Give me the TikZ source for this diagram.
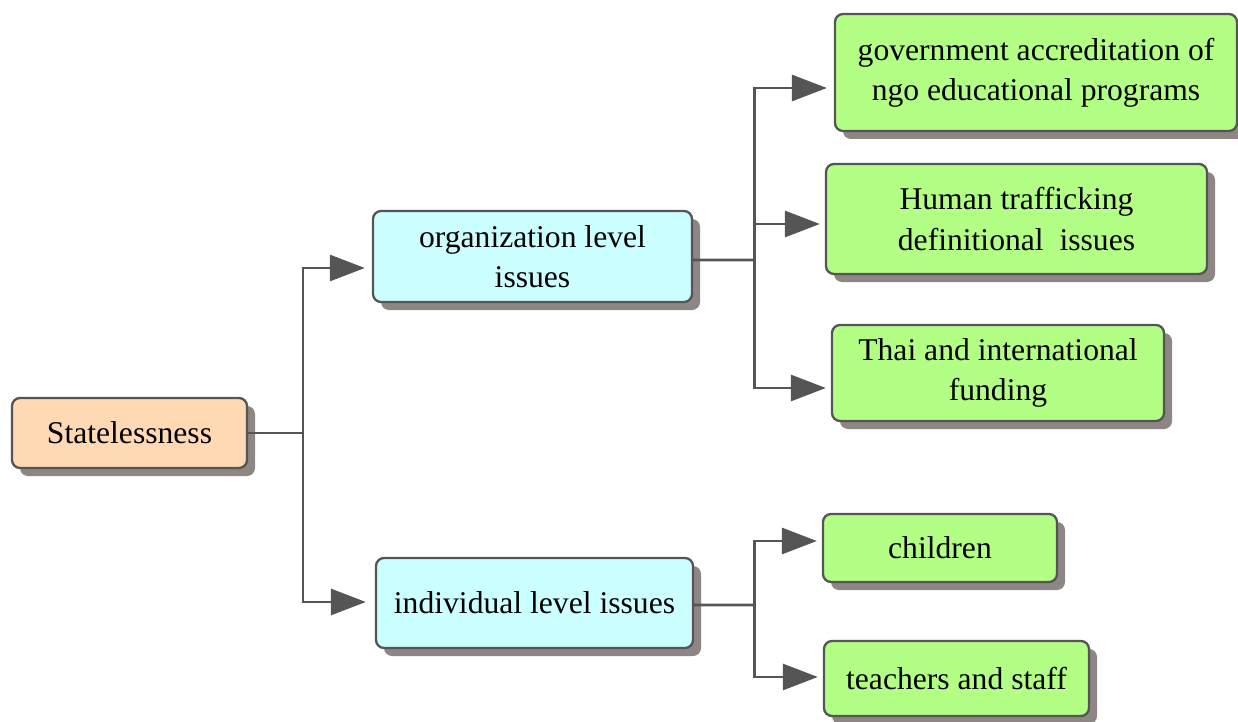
\documentclass[tikz,border=0pt]{standalone}
\usepackage{fontspec}
\setmainfont{Liberation Serif}
\usetikzlibrary{arrows.meta, shadows}
\definecolor{peach}{HTML}{FFD9B3}
\definecolor{paleblue}{HTML}{CCFFFF}
\definecolor{palegreen}{HTML}{B3FF85}
\definecolor{edgegray}{HTML}{555555}
\definecolor{shadowgray}{HTML}{8E8585}
\tikzstyle{arrow} = [line width=0.85pt, draw=edgegray, -{Triangle[length=0.35cm,width=0.26cm]}]
\tikzstyle{line} = [line width=0.85pt, draw=edgegray]
\tikzset{
    box/.style={rectangle, rounded corners=0.08cm, draw=edgegray, line width=0.65pt, align=center,
        font=\fontsize{9}{11.4}\selectfont, inner sep=0pt,
        drop shadow={shadow xshift=0.08cm, shadow yshift=-0.08cm, fill=shadowgray, opacity=1}},
    root/.style={box, fill=peach},
    level/.style={box, fill=paleblue},
    leaf/.style={box, fill=palegreen}
}

\begin{document}
\begin{tikzpicture}
    \useasboundingbox (0,0) rectangle (12.38,7.21);

    \node at (1.295,2.88) [root, minimum width=2.35cm, minimum height=0.70cm] (state) {Statelessness};

    \node at (5.325,4.645) [level, minimum width=3.19cm, minimum height=0.91cm] (org) {organization level\\issues};
    \node at (5.345,1.18) [level, minimum width=3.17cm, minimum height=0.90cm] (indiv) {individual level issues};

    \node at (10.36,6.485) [leaf, minimum width=4.02cm, minimum height=1.17cm] (gov) {government accreditation of\\ngo educational programs};
    \node at (10.165,5.02) [leaf, minimum width=3.81cm, minimum height=1.10cm] (human) {Human trafficking\\definitional\ \ issues};
    \node at (9.98,3.48) [leaf, minimum width=3.32cm, minimum height=0.96cm] (thai) {Thai and international\\funding};
    \node at (9.40,1.73) [leaf, minimum width=2.34cm, minimum height=0.68cm] (kids) {children};
    \node at (9.565,0.425) [leaf, minimum width=2.65cm, minimum height=0.75cm] (staff) {teachers and staff};

    \coordinate (j1) at (3.03,2.88);
    \coordinate (j2) at (7.54,4.61);
    \coordinate (j3) at (7.54,1.16);

    % statelessness branches
    \draw [line] (state.east) -- (j1);
    \draw [arrow] (j1) |- ([yshift=-1.15mm, xshift=-0.7mm]org.west);
    \draw [arrow] (j1) |- ([yshift=0.1mm, xshift=-0.9mm]indiv.west);

    % organization level
    \draw [line] ([yshift=-0.35mm]org.east) -- (j2);
    \draw [arrow] (j2) |- ([yshift=-1.55mm, xshift=-0.7mm]gov.west);
    \draw [arrow] (j2) |- ([yshift=-0.5mm, xshift=-0.5mm]human.west);
    \draw [arrow] (j2) |- ([yshift=-1.5mm, xshift=-0.5mm]thai.west);

    % individual level
    \draw [line] ([yshift=-0.2mm]indiv.east) -- (j3);
    \draw [arrow] (j3) |- ([yshift=0.7mm, xshift=-0.5mm]kids.west);
    \draw [arrow] (j3) |- ([yshift=0.15mm, xshift=-0.5mm]staff.west);
\end{tikzpicture}
\end{document}
